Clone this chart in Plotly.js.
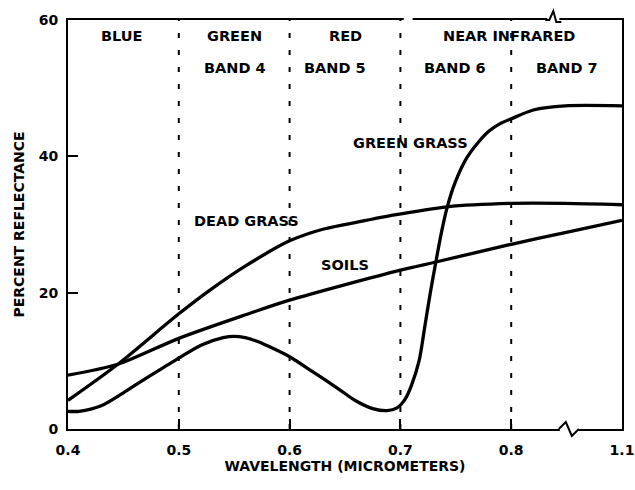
<!DOCTYPE html>
<html>
<head>
<meta charset="utf-8">
<script src="https://cdn.plot.ly/plotly-3.0.1.min.js"></script>
<style>html,body{margin:0;padding:0;background:#fff;}#chart{width:635px;height:490px;}</style>
</head>
<body>
<div id="chart"></div>
<script>
// Wavelength in micrometers (axis is broken between 0.8 and 1.1)
const soilsWave = [0.40, 0.445, 0.50, 0.561, 0.60, 0.70, 0.732, 0.80, 0.946, 1.10];
const soilsRefl = [7.9, 9.5, 13.3, 16.8, 18.9, 23.3, 24.5, 27.1, 28.8, 30.6];

const deadWave = [0.40, 0.445, 0.50, 0.53, 0.561, 0.60, 0.63, 0.669, 0.691, 0.742, 0.80, 0.946, 1.10];
const deadRefl = [4.2, 9.5, 16.9, 20.6, 24.0, 27.6, 29.3, 30.6, 31.3, 32.6, 33.1, 33.1, 32.9];

const greenWave = [0.40, 0.41, 0.43, 0.45, 0.47, 0.49, 0.50, 0.52, 0.54, 0.55, 0.56, 0.57, 0.58, 0.60, 0.62, 0.644, 0.66, 0.675, 0.688, 0.697, 0.704, 0.71, 0.717, 0.722, 0.727, 0.732, 0.737, 0.742, 0.749, 0.76, 0.77, 0.78, 0.79, 0.80, 0.86, 0.946, 1.10];
const greenRefl = [2.6, 2.6, 3.4, 5.3, 7.4, 9.4, 10.4, 12.3, 13.4, 13.6, 13.4, 12.9, 12.2, 10.6, 8.5, 5.9, 4.1, 3.0, 2.7, 3.1, 4.3, 6.4, 10.1, 15.0, 20.0, 24.5, 28.8, 32.4, 36.0, 39.8, 42.0, 43.7, 44.8, 45.5, 46.8, 47.4, 47.4];

const tickWaves = [0.4, 0.5, 0.6, 0.7, 0.8, 1.1];
const tickLabels = ["0.4", "0.5", "0.6", "0.7", "0.8", "1.1"];
const bandEdges = [0.5, 0.6, 0.7, 0.8];
const yTickVals = [0, 20, 40, 60];

// broken axis: 0.8 -> 1.1 compressed into one 0.1 step
function toAxis(w) { return w <= 0.8 ? w : 0.8 + (w - 0.8) / 3; }
const X_RANGE = [0.4, 0.9];
function toPaper(d) { return (d - X_RANGE[0]) / (X_RANGE[1] - X_RANGE[0]); }

const FONT = "DejaVu Sans, Liberation Sans, Arial, sans-serif";
const lineStyle = {color: "#000", width: 3.3, shape: "spline", smoothing: 0.8};

const traces = [
  {x: soilsWave.map(toAxis), y: soilsRefl, mode: "lines", line: lineStyle, name: "SOILS", hoverinfo: "skip"},
  {x: deadWave.map(toAxis), y: deadRefl, mode: "lines", line: lineStyle, name: "DEAD GRASS", hoverinfo: "skip"},
  {x: greenWave.map(toAxis), y: greenRefl, mode: "lines", line: lineStyle, name: "GREEN GRASS", hoverinfo: "skip"}
];

const shapes = bandEdges.map(b => ({
  type: "line", xref: "x", yref: "y", x0: toAxis(b), x1: toAxis(b), y0: 0, y1: 60,
  line: {color: "#000", width: 2, dash: "5px,12px"}, layer: "below"
}));

// gap in top border near 0.7
shapes.push({type: "line", xref: "paper", yref: "paper", x0: toPaper(0.703), x1: toPaper(0.711), y0: 1, y1: 1,
  line: {color: "#fff", width: 5}, layer: "above"});
// break mark bottom axis
const bottomBreak = toPaper(0.852), topBreak = toPaper(0.838);
shapes.push({type: "path", xref: "paper", yref: "paper", xsizemode: "pixel", ysizemode: "pixel",
  xanchor: bottomBreak, yanchor: 0, path: "M -9,0 L 9,0", line: {color: "#fff", width: 5}, layer: "above"});
shapes.push({type: "path", xref: "paper", yref: "paper", xsizemode: "pixel", ysizemode: "pixel",
  xanchor: bottomBreak, yanchor: 0, path: "M -10,0 L -3,7 L 3,-7 L 10,0", line: {color: "#000", width: 2}, layer: "above"});
// break mark top border
shapes.push({type: "path", xref: "paper", yref: "paper", xsizemode: "pixel", ysizemode: "pixel",
  xanchor: topBreak, yanchor: 1, path: "M -6,0 L 6,0", line: {color: "#fff", width: 5}, layer: "above"});
shapes.push({type: "path", xref: "paper", yref: "paper", xsizemode: "pixel", ysizemode: "pixel",
  xanchor: topBreak, yanchor: 1, path: "M -8,0 L -4,0 L 0,9 L 3,-2 L 8,-2", line: {color: "#000", width: 2}, layer: "above"});

function lbl(text, x, y) {
  return {text: text, x: x, y: y, xref: "x", yref: "y", showarrow: false,
    font: {family: FONT, size: 14.5, color: "#000", weight: "bold"}, xanchor: "center", yanchor: "middle"};
}
const annotations = [
  lbl("BLUE", 0.448, 57.7),
  lbl("GREEN", 0.55, 57.7),
  lbl("BAND 4", 0.551, 53.0),
  lbl("RED", 0.65, 57.7),
  lbl("BAND 5", 0.641, 53.0),
  lbl("NEAR INFRARED", 0.798, 57.7),
  lbl("BAND 6", 0.749, 53.0),
  lbl("BAND 7", 0.85, 53.0),
  lbl("GREEN GRASS", 0.709, 41.9),
  lbl("DEAD GRASS", 0.561, 30.5),
  lbl("SOILS", 0.650, 24.0)
];

const layout = {
  width: 635, height: 490,
  margin: {l: 68, r: 13, t: 20, b: 61},
  paper_bgcolor: "#fff", plot_bgcolor: "#fff",
  showlegend: false,
  xaxis: {
    range: X_RANGE, tickvals: tickWaves.map(toAxis), ticktext: tickLabels,
    ticks: "inside", ticklen: 10, tickwidth: 2, tickcolor: "#000",
    showline: true, linecolor: "#000", linewidth: 2, mirror: true,
    showgrid: false, zeroline: false, ticklabelstandoff: 7,
    tickfont: {family: FONT, size: 14, color: "#000", weight: "bold"},
    title: {text: "WAVELENGTH (MICROMETERS)", font: {family: FONT, size: 14, color: "#000", weight: "bold"}, standoff: 3}
  },
  yaxis: {
    range: [0, 60], tickvals: yTickVals,
    ticks: "inside", ticklen: 10, tickwidth: 2, tickcolor: "#000",
    showline: true, linecolor: "#000", linewidth: 2, mirror: true,
    showgrid: false, zeroline: false, ticklabelstandoff: 5,
    tickfont: {family: FONT, size: 14, color: "#000", weight: "bold"},
    title: {text: "PERCENT REFLECTANCE", font: {family: FONT, size: 14, color: "#000", weight: "bold"}, standoff: 11}
  },
  shapes: shapes,
  annotations: annotations
};

Plotly.newPlot("chart", traces, layout, {displayModeBar: false, staticPlot: true});
</script>
</body>
</html>
